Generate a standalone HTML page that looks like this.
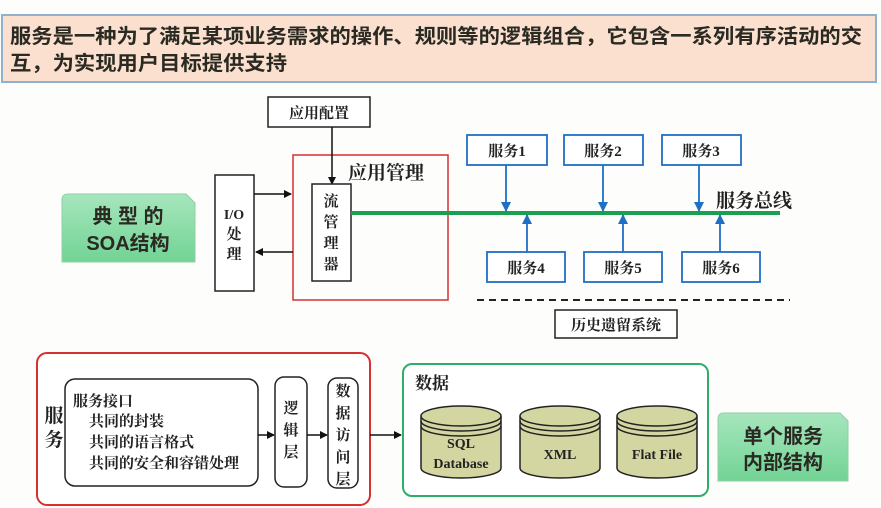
<!DOCTYPE html>
<html><head><meta charset="utf-8"><style>
body{margin:0;background:#fdfdfc;}
svg{display:block}
.s{font-family:"Liberation Serif","Noto Serif CJK SC",serif;font-weight:bold;fill:#222}
.h{font-family:"Liberation Sans","Noto Sans CJK SC",sans-serif;font-weight:bold;fill:#2a2a22}
</style></head><body>
<svg width="881" height="508" viewBox="0 0 881 508" xmlns="http://www.w3.org/2000/svg">
<defs>
<linearGradient id="g" x1="0" y1="0" x2="0" y2="1"><stop offset="0" stop-color="#a6e6bd"/><stop offset="1" stop-color="#72d394"/></linearGradient>
<marker id="a" markerWidth="8" markerHeight="8" refX="7" refY="4" orient="auto" markerUnits="userSpaceOnUse"><path d="M0,0 L8,4 L0,8 z" fill="#111"/></marker>
<marker id="b" markerWidth="10" markerHeight="10" refX="9" refY="5" orient="auto" markerUnits="userSpaceOnUse"><path d="M0,0 L10,5 L0,10 z" fill="#1f6fc4"/></marker>
</defs>
<rect x="0" y="0" width="881" height="508" fill="#fdfdfc"/>
<!-- banner -->
<rect x="2" y="15" width="874" height="67" fill="#fbe0cf" stroke="#8fb0cf" stroke-width="2"/>
<text x="10" y="43" class="h" font-size="20" textLength="852" lengthAdjust="spacingAndGlyphs">服务是一种为了满足某项业务需求的操作、规则等的逻辑组合，它包含一系列有序活动的交</text>
<text x="10" y="70" class="h" font-size="20" textLength="277" lengthAdjust="spacingAndGlyphs">互，为实现用户目标提供支持</text>
<!-- top diagram -->
<path d="M62,200 Q62,194 68,194 L186,194 L195,203 L195,262 L62,262 Z" fill="url(#g)" stroke="#8fd0a5"/>
<text x="128" y="223" class="h" font-size="20" text-anchor="middle">典 型 的</text>
<text x="128" y="250" class="h" font-size="20" text-anchor="middle">SOA结构</text>
<rect x="268" y="97" width="102" height="30" fill="#fff" stroke="#222" stroke-width="1.5"/>
<text x="319" y="118" class="s" font-size="15" text-anchor="middle">应用配置</text>
<rect x="293" y="155" width="155" height="145" fill="none" stroke="#d63030" stroke-width="1.5"/>
<text x="348" y="179" class="s" font-size="19" font-weight="normal">应用管理</text>
<line x1="332" y1="127" x2="332" y2="184" stroke="#111" stroke-width="1.5" marker-end="url(#a)"/>
<rect x="312" y="184" width="39" height="97" fill="#fff" stroke="#222" stroke-width="1.5"/>
<text x="331" y="206" class="s" font-size="15" text-anchor="middle">流</text>
<text x="331" y="227" class="s" font-size="15" text-anchor="middle">管</text>
<text x="331" y="248" class="s" font-size="15" text-anchor="middle">理</text>
<text x="331" y="269" class="s" font-size="15" text-anchor="middle">器</text>
<rect x="215" y="175" width="39" height="116" fill="#fff" stroke="#222" stroke-width="1.5"/>
<text x="234" y="219" class="s" font-size="14" text-anchor="middle">I/O</text>
<text x="234" y="239" class="s" font-size="15" text-anchor="middle">处</text>
<text x="234" y="259" class="s" font-size="15" text-anchor="middle">理</text>
<line x1="254" y1="194" x2="291" y2="194" stroke="#111" stroke-width="1.5" marker-end="url(#a)"/>
<line x1="293" y1="252" x2="256" y2="252" stroke="#111" stroke-width="1.5" marker-end="url(#a)"/>
<line x1="351" y1="213" x2="780" y2="213" stroke="#1aa050" stroke-width="4"/>
<text x="716" y="207" class="s" font-size="19" font-weight="normal">服务总线</text>
<g stroke="#1f6fc4" stroke-width="1.8" fill="#fff">
<rect x="467" y="135" width="80" height="30"/><rect x="564" y="135" width="79" height="30"/><rect x="662" y="135" width="79" height="30"/>
<rect x="487" y="252" width="78" height="30"/><rect x="584" y="252" width="78" height="30"/><rect x="682" y="252" width="78" height="30"/>
<line x1="506" y1="165" x2="506" y2="211" marker-end="url(#b)"/>
<line x1="603" y1="165" x2="603" y2="211" marker-end="url(#b)"/>
<line x1="699" y1="165" x2="699" y2="211" marker-end="url(#b)"/>
<line x1="527" y1="252" x2="527" y2="215" marker-end="url(#b)"/>
<line x1="623" y1="252" x2="623" y2="215" marker-end="url(#b)"/>
<line x1="720" y1="252" x2="720" y2="215" marker-end="url(#b)"/>
</g>
<g class="s" font-size="15" text-anchor="middle">
<text x="507" y="156">服务1</text><text x="603" y="156">服务2</text><text x="701" y="156">服务3</text>
<text x="526" y="273">服务4</text><text x="623" y="273">服务5</text><text x="721" y="273">服务6</text>
</g>
<line x1="477" y1="300" x2="790" y2="300" stroke="#222" stroke-width="2" stroke-dasharray="7,5"/>
<rect x="555" y="310" width="122" height="28" fill="#fff" stroke="#222" stroke-width="1.5"/>
<text x="616" y="330" class="s" font-size="15" text-anchor="middle" font-weight="normal">历史遗留系统</text>
<!-- bottom -->
<rect x="37" y="353" width="333" height="152" rx="10" fill="#fff" stroke="#d63030" stroke-width="2"/>
<text x="54" y="422" class="s" font-size="19" text-anchor="middle">服</text>
<text x="54" y="446" class="s" font-size="19" text-anchor="middle">务</text>
<rect x="65" y="379" width="193" height="107" rx="10" fill="#fff" stroke="#222" stroke-width="1.5"/>
<text x="73" y="406" class="s" font-size="15">服务接口</text>
<text x="89" y="426" class="s" font-size="15">共同的封装</text>
<text x="89" y="447" class="s" font-size="15">共同的语言格式</text>
<text x="89" y="468" class="s" font-size="15">共同的安全和容错处理</text>
<rect x="275" y="377" width="32" height="110" rx="9" fill="#fff" stroke="#222" stroke-width="1.5"/>
<text x="291" y="413" class="s" font-size="15" text-anchor="middle">逻</text>
<text x="291" y="435" class="s" font-size="15" text-anchor="middle">辑</text>
<text x="291" y="457" class="s" font-size="15" text-anchor="middle">层</text>
<rect x="328" y="378" width="30" height="110" rx="9" fill="#fff" stroke="#222" stroke-width="1.5"/>
<text x="343" y="396" class="s" font-size="15" text-anchor="middle">数</text>
<text x="343" y="418" class="s" font-size="15" text-anchor="middle">据</text>
<text x="343" y="440" class="s" font-size="15" text-anchor="middle">访</text>
<text x="343" y="462" class="s" font-size="15" text-anchor="middle">问</text>
<text x="343" y="484" class="s" font-size="15" text-anchor="middle">层</text>
<line x1="258" y1="435" x2="274" y2="435" stroke="#111" stroke-width="1.5" marker-end="url(#a)"/>
<line x1="307" y1="435" x2="327" y2="435" stroke="#111" stroke-width="1.5" marker-end="url(#a)"/>
<line x1="370" y1="435" x2="401" y2="435" stroke="#111" stroke-width="1.5" marker-end="url(#a)"/>
<rect x="403" y="364" width="305" height="132" rx="9" fill="#fff" stroke="#2fae6a" stroke-width="2"/>
<text x="415" y="389" class="s" font-size="17">数据</text>
<g stroke="#222" stroke-width="1.5" fill="#d4d6a2">
<path d="M421,417 L421,468 A40,10 0 0 0 501,468 L501,417 A40,10 0 0 0 421,417 Z"/>
<ellipse cx="461" cy="416" rx="40" ry="10"/>
<path d="M421,421 A40,10 0 0 0 501,421 M421,426 A40,10 0 0 0 501,426" fill="none"/>
<path d="M520,417 L520,468 A40,10 0 0 0 600,468 L600,417 A40,10 0 0 0 520,417 Z"/>
<ellipse cx="560" cy="416" rx="40" ry="10"/>
<path d="M520,421 A40,10 0 0 0 600,421 M520,426 A40,10 0 0 0 600,426" fill="none"/>
<path d="M617,417 L617,468 A40,10 0 0 0 697,468 L697,417 A40,10 0 0 0 617,417 Z"/>
<ellipse cx="657" cy="416" rx="40" ry="10"/>
<path d="M617,421 A40,10 0 0 0 697,421 M617,426 A40,10 0 0 0 697,426" fill="none"/>
</g>
<text x="461" y="448" class="s" font-size="14" text-anchor="middle">SQL</text>
<text x="461" y="468" class="s" font-size="14" text-anchor="middle">Database</text>
<text x="560" y="459" class="s" font-size="14" text-anchor="middle">XML</text>
<text x="657" y="459" class="s" font-size="14" text-anchor="middle">Flat File</text>
<path d="M718,419 Q718,413 724,413 L840,413 L848,421 L848,481 L718,481 Z" fill="url(#g)" stroke="#8fd0a5"/>
<text x="783" y="443" class="h" font-size="20" text-anchor="middle">单个服务</text>
<text x="783" y="469" class="h" font-size="20" text-anchor="middle">内部结构</text>
</svg>
</body></html>
